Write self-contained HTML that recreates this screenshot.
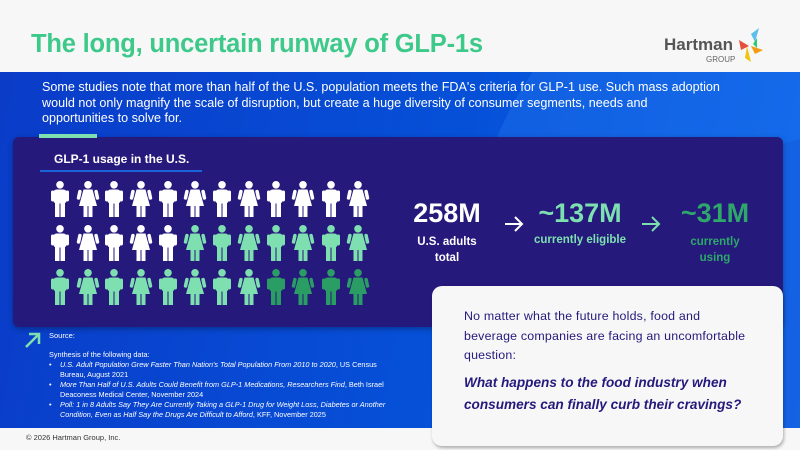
<!DOCTYPE html>
<html><head><meta charset="utf-8"><style>
*{margin:0;padding:0;box-sizing:border-box}
body{width:800px;height:450px;overflow:hidden;font-family:"Liberation Sans",sans-serif;background:#f7f7f7;position:relative}
.abs{position:absolute}
</style></head><body>
<div class="abs" style="left:0;top:0;width:800px;height:72px;background:#f7f7f7"></div>
<div class="abs" style="left:31px;top:30px;font-size:25.5px;font-weight:bold;color:#3cc98a;letter-spacing:-0.2px">The long, uncertain runway of GLP-1s</div>
<div class="abs" style="left:664px;top:35px;font-size:17px;color:#555;font-weight:bold">Hartman</div>
<div class="abs" style="left:706px;top:55px;font-size:8px;color:#666">GROUP</div>
<svg class="abs" style="left:733px;top:28px" width="36" height="34"><polygon points="18,6 26,0 22,14" fill="#5bc0eb"/><polygon points="6,12 16,18 8,22" fill="#e74c3c"/><polygon points="18,18 30,22 22,26" fill="#f39c12"/><polygon points="14,18 18,34 12,30" fill="#f1c40f"/><polygon points="20,16 24,10 24,20" fill="#2ecc71"/></svg>
<div class="abs" style="left:0;top:72px;width:800px;height:356px;background:linear-gradient(100deg,#0a3cc8 0%,#0650d8 55%,#0a66e8 100%);overflow:hidden">
<div class="abs" style="left:470px;top:-150px;width:700px;height:700px;border-radius:50%;background:rgba(40,120,240,0.35)"></div>
<div class="abs" style="left:610px;top:60px;width:500px;height:500px;border-radius:50%;background:rgba(20,90,220,0.5)"></div>
</div>
<div class="abs" style="left:42px;top:80px;width:712px;font-size:12.6px;line-height:15.7px;color:#fff">Some studies note that more than half of the U.S. population meets the FDA's criteria for GLP-1 use. Such mass adoption<br>would not only magnify the scale of disruption, but create a huge diversity of consumer segments, needs and<br>opportunities to solve for.</div>
<div class="abs" style="left:13px;top:137px;width:770px;height:190px;background:#25197c;border-radius:6px;box-shadow:0 2px 6px rgba(0,0,0,.3)"></div>
<div class="abs" style="left:39px;top:134px;width:58px;height:4px;background:#7ee0b0"></div>
<div class="abs" style="left:54px;top:152px;font-size:12px;font-weight:bold;color:#fff">GLP-1 usage in the U.S.</div>
<div class="abs" style="left:40px;top:170px;width:162px;height:2px;background:#1a63d8"></div>
<svg class="abs" style="left:0;top:0" width="800" height="450">
<defs>
<g id="m"><circle cx="0" cy="3.8" r="3.8"/><rect x="-6.5" y="8.5" width="13" height="14" rx="3"/><rect x="-9" y="9.5" width="3.5" height="11" rx="1.7"/><rect x="5.5" y="9.5" width="3.5" height="11" rx="1.7"/><rect x="-5" y="20" width="4.5" height="16"/><rect x="0.5" y="20" width="4.5" height="16"/></g>
<g id="f"><circle cx="0" cy="3.8" r="3.8"/><polygon points="-4.5,8.5 4.5,8.5 9,25 -9,25"/><rect x="-9.5" y="9" width="3.5" height="10" rx="1.7" transform="rotate(12 -7 9)"/><rect x="6" y="9" width="3.5" height="10" rx="1.7" transform="rotate(-12 7 9)"/><rect x="-4.5" y="24" width="4" height="12"/><rect x="0.5" y="24" width="4" height="12"/></g>
</defs>
<g fill="#ffffff">
<use href="#m" x="60" y="181"/><use href="#f" x="88" y="181"/><use href="#m" x="114" y="181"/><use href="#f" x="141" y="181"/><use href="#m" x="168" y="181"/><use href="#f" x="195" y="181"/><use href="#m" x="222" y="181"/><use href="#f" x="249" y="181"/><use href="#m" x="276" y="181"/><use href="#f" x="303" y="181"/><use href="#m" x="331" y="181"/><use href="#f" x="358" y="181"/>
<use href="#m" x="60" y="225"/><use href="#f" x="88" y="225"/><use href="#m" x="114" y="225"/><use href="#f" x="141" y="225"/><use href="#m" x="168" y="225"/>
</g>
<g fill="#7ee0b0">
<use href="#f" x="195" y="225"/><use href="#m" x="222" y="225"/><use href="#f" x="249" y="225"/><use href="#m" x="276" y="225"/><use href="#f" x="303" y="225"/><use href="#m" x="331" y="225"/><use href="#f" x="358" y="225"/>
<use href="#m" x="60" y="269"/><use href="#f" x="88" y="269"/><use href="#m" x="114" y="269"/><use href="#f" x="141" y="269"/><use href="#m" x="168" y="269"/><use href="#f" x="195" y="269"/><use href="#m" x="222" y="269"/><use href="#f" x="249" y="269"/>
</g>
<g fill="#2a9d64">
<use href="#m" x="276" y="269"/><use href="#f" x="303" y="269"/><use href="#m" x="331" y="269"/><use href="#f" x="358" y="269"/>
</g>
<g stroke="#fff" stroke-width="2" fill="none"><path d="M505 224h16M515 217l7 7-7 7"/></g>
<g stroke="#7ee0b0" stroke-width="2" fill="none"><path d="M642 224h16M652 217l7 7-7 7"/></g>
<g stroke="#7ee0b0" stroke-width="2.5" fill="none"><path d="M26 347l13-13M29 334h10v10"/></g>
</svg>
<div class="abs" style="left:387px;top:198px;width:120px;text-align:center;color:#fff;font-weight:bold;font-size:27px">258M</div>
<div class="abs" style="left:387px;top:234px;width:120px;text-align:center;color:#fff;font-weight:bold;font-size:11.5px;line-height:16px">U.S. adults<br>total</div>
<div class="abs" style="left:520px;top:198px;width:120px;text-align:center;color:#7ee0b0;font-weight:bold;font-size:27px">~137M</div>
<div class="abs" style="left:520px;top:234px;width:120px;text-align:center;color:#7ee0b0;font-weight:bold;font-size:11.5px">currently eligible</div>
<div class="abs" style="left:655px;top:198px;width:120px;text-align:center;color:#2ea86a;font-weight:bold;font-size:27px">~31M</div>
<div class="abs" style="left:655px;top:234px;width:120px;text-align:center;color:#2ea86a;font-weight:bold;font-size:11.5px;line-height:16px">currently<br>using</div>
<div class="abs" style="left:0;top:428px;width:800px;height:22px;background:#f7f7f7"></div>
<div class="abs" style="left:26px;top:433px;font-size:7.5px;color:#333">© 2026 Hartman Group, Inc.</div>
<div class="abs" style="left:432px;top:286px;width:351px;height:160px;background:#f7f7f7;border-radius:10px;box-shadow:1px 2px 3px rgba(0,0,0,.3)"></div>
<div class="abs" style="left:464px;top:307px;width:300px;font-size:12.4px;line-height:19.5px;color:#25197c;letter-spacing:0.2px">No matter what the future holds, food and<br>beverage companies are facing an uncomfortable<br>question:</div>
<div class="abs" style="left:464px;top:372px;width:310px;font-size:13.6px;line-height:21.5px;color:#25197c;font-weight:bold;font-style:italic">What happens to the food industry when consumers can finally curb their cravings?</div>
<div class="abs" style="left:49px;top:331px;font-size:7.5px;color:#fff">Source:</div>
<div class="abs" style="left:49px;top:350px;width:350px;font-size:7.3px;line-height:10px;color:#fff">Synthesis of the following data:</div>
<div class="abs" style="left:49px;top:360px;width:342px;font-size:7.3px;line-height:10px;color:#fff">
<div style="position:relative;padding-left:11px"><span style="position:absolute;left:0">•</span><i>U.S. Adult Population Grew Faster Than Nation's Total Population From 2010 to 2020</i>, US Census Bureau, August 2021</div>
<div style="position:relative;padding-left:11px"><span style="position:absolute;left:0">•</span><i>More Than Half of U.S. Adults Could Benefit from GLP-1 Medications, Researchers Find</i>, Beth Israel Deaconess Medical Center, November 2024</div>
<div style="position:relative;padding-left:11px"><span style="position:absolute;left:0">•</span><i>Poll: 1 in 8 Adults Say They Are Currently Taking a GLP-1 Drug for Weight Loss, Diabetes or Another Condition, Even as Half Say the Drugs Are Difficult to Afford</i>, KFF, November 2025</div>
</div>
</body></html>
